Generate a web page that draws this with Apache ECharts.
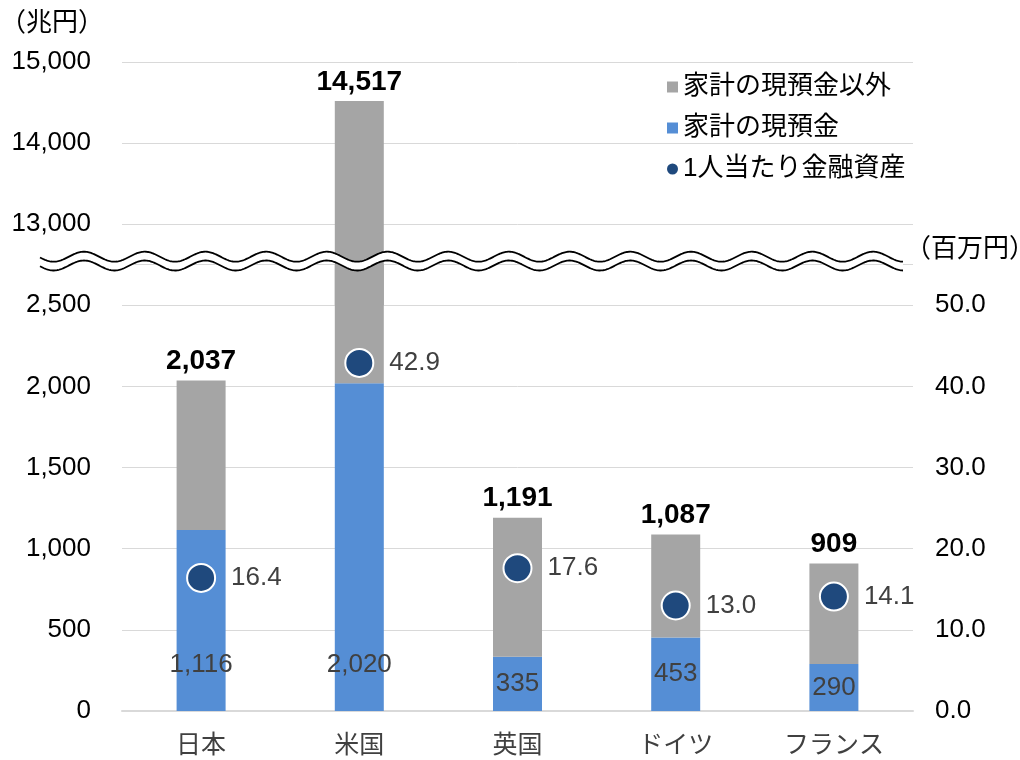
<!DOCTYPE html>
<html>
<head>
<meta charset="utf-8">
<script src="https://cdn.jsdelivr.net/npm/echarts@6/dist/echarts.min.js"></script>
<style>
html,body{margin:0;padding:0;background:#fff;}
#chart{width:1020px;height:760px;}
</style>
</head>
<body>
<div id="chart"></div>
<script>
// ---- data ----
const categories = ['日本', '米国', '英国', 'ドイツ', 'フランス'];
const cashDeposits = [1116, 2020, 335, 453, 290];          // 家計の現預金 (兆円)
const totalAssets = [2037, 14517, 1191, 1087, 909];        // 家計金融資産合計 (兆円)
const perCapita = [16.4, 42.9, 17.6, 13.0, 14.1];          // 1人当たり金融資産 (百万円)
const lowerTicks = [0, 500, 1000, 1500, 2000, 2500];
const upperTicks = [13000, 14000, 15000];
const rightTicks = [0, 10, 20, 30, 40, 50];
const seriesNames = ['家計の現預金以外', '家計の現預金', '1人当たり金融資産'];

// ---- axis ranges (broken axis) ----
const lowerMax = 2750;
const upperMin = 12000, upperMax = 15000;
const rightMax = lowerMax / 500 * 10;

const FONT = "'Liberation Sans', Arial, 'Noto Sans CJK JP', sans-serif";
const fmtInt = v => v.toLocaleString('en-US');

const otherData = totalAssets.map((t, i) => ({
  value: t - cashDeposits[i],
  label: { show: t <= lowerMax }
}));
const cashData = cashDeposits.map(v => (v > 800
  ? { value: v, label: { position: 'insideBottom', distance: 33 } }
  : { value: v, label: { position: 'inside' } }));
const upperData = totalAssets.map(t => (t > lowerMax ? t : '-'));

// wavy break decoration
function wave(y0, x0, x1) {
  const pts = [];
  for (let x = x0; x <= x1; x += 1) {
    pts.push([x, y0 - 5 * Math.cos(2 * Math.PI * (x - 84) / 60.7)]);
  }
  return pts;
}
const waveTop = wave(256.7, 40, 903);
const waveBot = wave(265.5, 40, 903);
const bandPts = waveTop.concat(waveBot.slice().reverse());

const chart = echarts.init(document.getElementById('chart'), null, { renderer: 'canvas' });

const totalLabel = {
  show: true,
  position: 'top',
  distance: 5,
  fontFamily: FONT,
  fontSize: 28,
  fontWeight: 'bold',
  color: '#000'
};

chart.setOption({
  animation: false,
  backgroundColor: '#ffffff',
  textStyle: { fontFamily: FONT },
  grid: [
    { left: 122, right: 107, top: 264.7, bottom: 49, containLabel: false, outerBoundsMode: 'none' },
    { left: 122, right: 107, top: 62, bottom: 455, containLabel: false, outerBoundsMode: 'none' }
  ],
  legend: {
    orient: 'vertical',
    left: 662,
    top: 69,
    itemWidth: 11,
    itemHeight: 11,
    itemGap: 15,
    textStyle: { fontFamily: FONT, fontSize: 26, color: '#000' },
    data: [
      { name: seriesNames[0], icon: 'rect' },
      { name: seriesNames[1], icon: 'rect' },
      { name: seriesNames[2], icon: 'circle', itemStyle: { borderWidth: 0, color: '#1F497D', opacity: 1 } }
    ]
  },
  xAxis: [
    {
      type: 'category', gridIndex: 0, data: categories,
      axisLine: { show: true, lineStyle: { color: '#d9d9d9', width: 2 } },
      axisTick: { show: false },
      axisLabel: { fontFamily: FONT, fontSize: 25, color: '#404040', margin: 23 }
    },
    {
      type: 'category', gridIndex: 1, data: categories, show: false
    }
  ],
  yAxis: [
    {
      type: 'value', gridIndex: 0, min: 0, max: lowerMax, interval: 500,
      axisLine: { show: false }, axisTick: { show: false },
      splitLine: { show: true, lineStyle: { color: '#d9d9d9', width: 1 } },
      axisLabel: {
        fontFamily: FONT, fontSize: 26, color: '#000', margin: 31,
        formatter: v => (lowerTicks.includes(v) ? fmtInt(v) : '')
      }
    },
    {
      type: 'value', gridIndex: 1, min: upperMin, max: upperMax, interval: 1000,
      axisLine: { show: false }, axisTick: { show: false },
      splitLine: { show: true, lineStyle: { color: '#d9d9d9', width: 1 } },
      axisLabel: {
        fontFamily: FONT, fontSize: 26, color: '#000', margin: 31,
        formatter: v => (upperTicks.includes(v) ? fmtInt(v) : '')
      }
    },
    {
      type: 'value', gridIndex: 0, position: 'right', min: 0, max: rightMax, interval: 10,
      axisLine: { show: false }, axisTick: { show: false }, splitLine: { show: false },
      axisLabel: {
        fontFamily: FONT, fontSize: 26, color: '#000', margin: 22,
        formatter: v => (rightTicks.includes(v) ? v.toFixed(1) : '')
      }
    }
  ],
  series: [
    {
      name: seriesNames[1], type: 'bar', xAxisIndex: 0, yAxisIndex: 0, stack: 'total',
      barWidth: 49, itemStyle: { color: '#558ED5' },
      label: {
        show: true, fontFamily: FONT, fontSize: 26, color: '#404040',
        formatter: p => fmtInt(p.value)
      },
      data: cashData
    },
    {
      name: seriesNames[0], type: 'bar', xAxisIndex: 0, yAxisIndex: 0, stack: 'total',
      barWidth: 49, itemStyle: { color: '#A5A5A5' },
      label: Object.assign({}, totalLabel, { formatter: p => fmtInt(totalAssets[p.dataIndex]) }),
      data: otherData
    },
    {
      name: seriesNames[0], type: 'bar', xAxisIndex: 1, yAxisIndex: 1,
      barWidth: 49, itemStyle: { color: '#A5A5A5' },
      label: Object.assign({}, totalLabel, { formatter: p => fmtInt(p.value) }),
      data: upperData
    },
    {
      name: seriesNames[2], type: 'scatter', xAxisIndex: 0, yAxisIndex: 2,
      symbol: 'circle', symbolSize: 28,
      itemStyle: { color: '#1F497D', borderColor: '#ffffff', borderWidth: 2, opacity: 1 },
      label: {
        show: true, position: 'right', distance: 15,
        fontFamily: FONT, fontSize: 26, color: '#404040',
        formatter: p => p.value.toFixed(1)
      },
      z: 5,
      data: perCapita
    }
  ],
  graphic: [
    {
      type: 'polygon', z: 100, silent: true,
      shape: { points: bandPts },
      style: { fill: '#ffffff', stroke: null }
    },
    {
      type: 'polyline', z: 101, silent: true,
      shape: { points: waveTop },
      style: { stroke: '#000', lineWidth: 1.8, fill: null }
    },
    {
      type: 'polyline', z: 101, silent: true,
      shape: { points: waveBot },
      style: { stroke: '#000', lineWidth: 1.8, fill: null }
    },
    {
      type: 'text', z: 101, x: 0, y: 24,
      style: { text: '（兆円）', font: '26px ' + FONT, fill: '#000', align: 'left', verticalAlign: 'middle' }
    },
    {
      type: 'text', z: 101, x: 905, y: 250,
      style: { text: '（百万円）', font: '26px ' + FONT, fill: '#000', align: 'left', verticalAlign: 'middle' }
    }
  ]
});
</script>
</body>
</html>
